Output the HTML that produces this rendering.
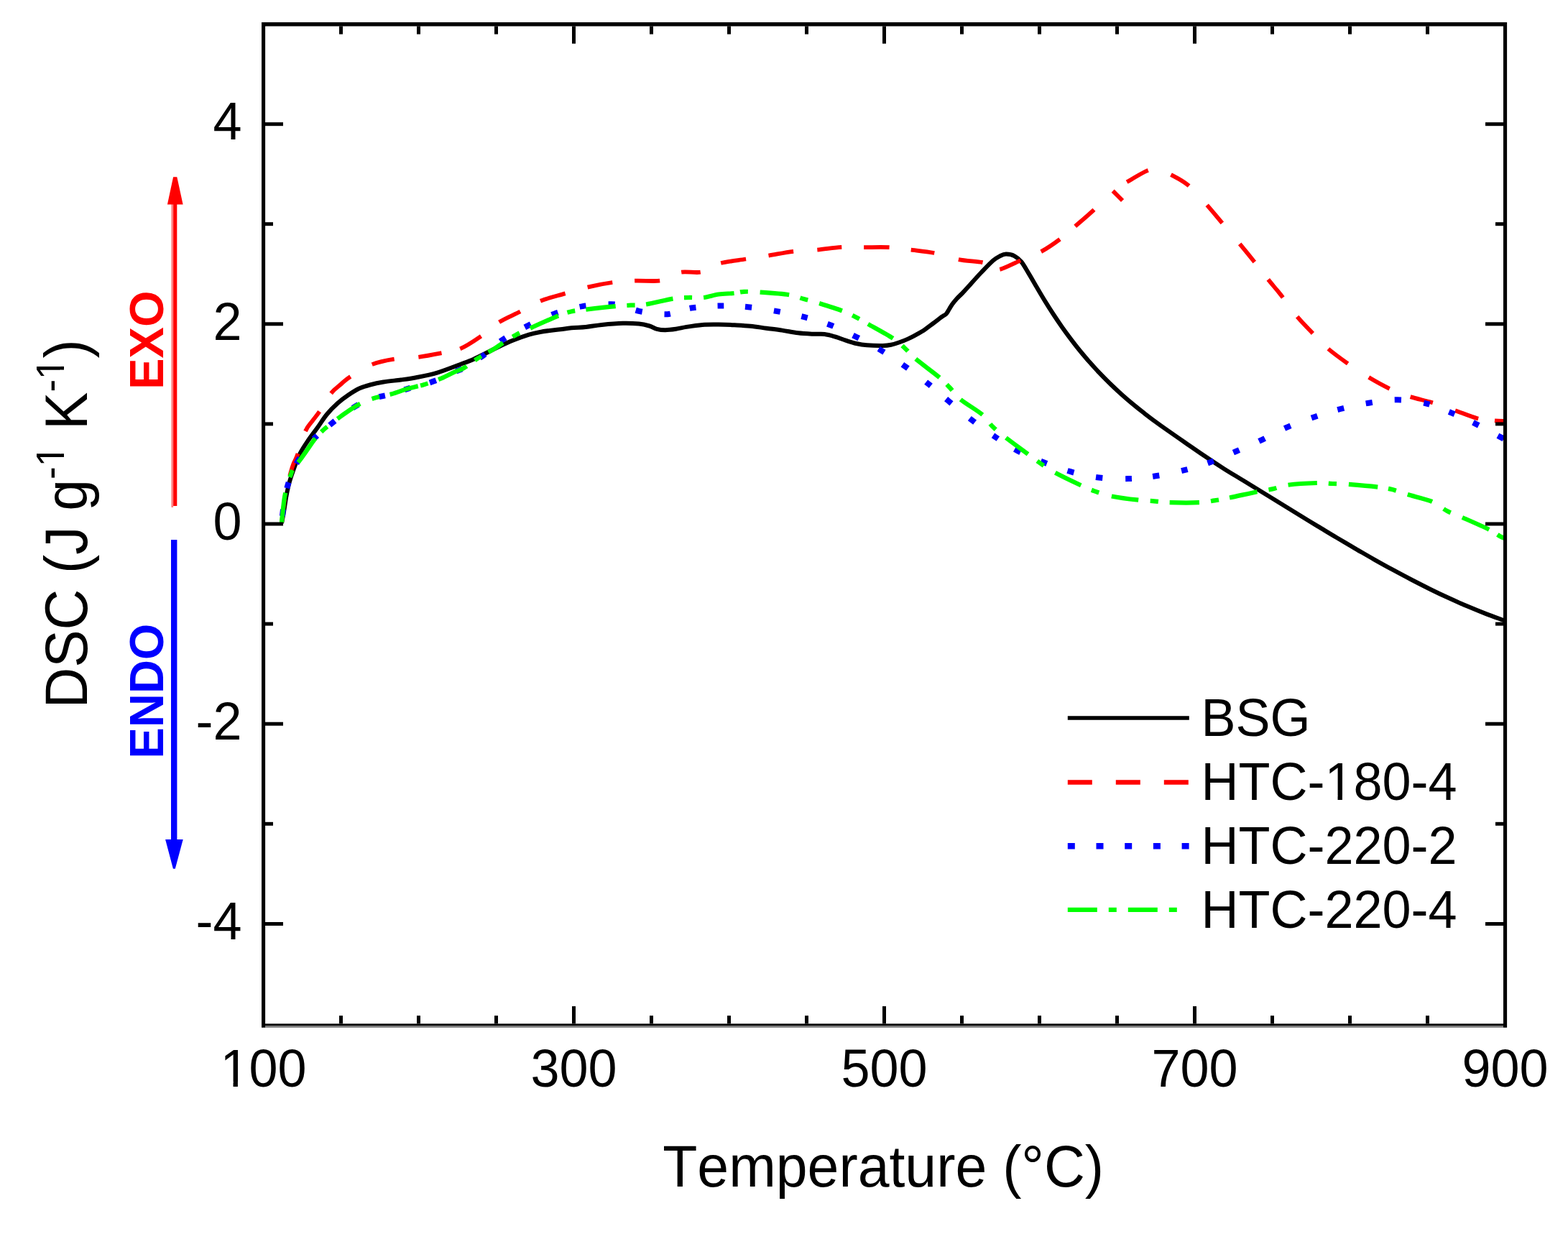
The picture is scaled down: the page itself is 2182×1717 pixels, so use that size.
<!DOCTYPE html>
<html><head><meta charset="utf-8"><title>DSC</title>
<style>html,body{margin:0;padding:0;background:#fff;overflow:hidden;}svg{display:block;}
text{font-family:"Liberation Sans",Arial,sans-serif;font-kerning:none;}</style></head>
<body>
<svg width="2182" height="1717" viewBox="0 0 2182 1717"><rect x="0" y="0" width="2182" height="1717" fill="#fff"/>
<path d="M392.0,728.0 C392.5,725.3 393.9,718.3 395.0,712.0 C396.1,705.7 397.2,697.0 398.5,690.0 C399.8,683.0 401.2,676.3 403.0,670.0 C404.8,663.7 406.6,658.5 409.0,652.0 C411.4,645.5 414.2,637.5 417.5,631.0 C420.8,624.5 424.6,619.0 428.7,613.0 C432.8,607.0 437.4,601.1 441.8,595.0 C446.2,588.9 450.2,582.2 454.9,576.5 C459.6,570.8 464.9,565.5 469.9,561.0 C474.9,556.5 479.9,552.9 484.9,549.5 C489.9,546.1 494.9,542.8 499.9,540.5 C504.9,538.2 509.3,537.0 514.9,535.5 C520.5,534.0 526.4,532.7 533.6,531.5 C540.8,530.3 550.4,529.5 558.0,528.5 C565.6,527.5 570.9,526.9 579.3,525.2 C587.7,523.6 597.9,521.8 608.5,518.6 C619.1,515.4 634.9,509.0 643.0,506.0 C651.1,503.0 651.5,503.2 657.0,500.8 C662.5,498.4 669.7,494.6 676.0,491.5 C682.3,488.4 688.7,485.0 695.0,482.0 C701.3,479.0 707.2,476.2 714.0,473.5 C720.8,470.8 729.9,467.6 736.0,465.7 C742.1,463.8 745.7,463.1 750.5,462.2 C755.3,461.2 760.1,460.6 765.0,460.0 C769.9,459.4 775.0,458.9 780.0,458.3 C785.0,457.7 789.1,456.9 795.0,456.3 C800.9,455.7 808.2,455.6 815.3,454.9 C822.4,454.2 828.8,452.8 837.4,451.9 C846.0,451.0 858.3,449.9 866.9,449.7 C875.5,449.5 882.9,449.9 889.0,450.5 C895.1,451.1 899.5,452.3 903.7,453.5 C907.9,454.7 910.4,456.9 914.1,457.8 C917.8,458.8 921.4,459.2 925.8,459.2 C930.2,459.2 935.7,458.5 940.6,457.8 C945.5,457.1 949.2,455.9 955.3,454.9 C961.4,453.9 969.9,452.5 977.4,451.9 C984.9,451.3 992.5,451.4 1000.0,451.5 C1007.5,451.6 1014.7,451.8 1022.1,452.2 C1029.5,452.6 1036.8,452.9 1044.2,453.7 C1051.6,454.4 1058.9,455.7 1066.3,456.7 C1073.7,457.7 1081.0,458.5 1088.4,459.6 C1095.8,460.7 1103.2,462.4 1110.6,463.3 C1118.0,464.2 1126.6,464.5 1132.7,464.8 C1138.8,465.1 1142.5,464.4 1147.4,465.0 C1152.3,465.6 1157.2,467.1 1162.1,468.5 C1167.0,469.9 1172.0,472.0 1176.9,473.6 C1181.8,475.2 1186.7,476.9 1191.6,478.0 C1196.5,479.1 1200.2,479.8 1206.4,480.3 C1212.6,480.8 1222.9,481.1 1228.5,481.0 C1234.1,480.9 1236.1,480.6 1240.0,479.8 C1243.9,479.0 1247.8,477.7 1251.7,476.3 C1255.6,474.9 1259.5,473.4 1263.4,471.6 C1267.3,469.8 1271.2,467.9 1275.1,465.7 C1279.0,463.5 1282.9,461.3 1286.8,458.7 C1290.7,456.1 1294.6,452.9 1298.5,450.0 C1302.4,447.1 1307.3,443.2 1310.3,441.0 C1313.3,438.8 1314.7,438.8 1316.5,437.0 C1318.3,435.2 1319.6,432.2 1321.0,430.0 C1322.4,427.8 1323.2,426.0 1325.0,423.5 C1326.8,421.0 1329.6,417.6 1332.0,415.0 C1334.4,412.4 1336.6,410.6 1339.5,407.6 C1342.4,404.6 1344.9,401.8 1349.2,397.0 C1353.5,392.2 1360.1,384.7 1365.6,379.0 C1371.1,373.3 1377.6,366.4 1382.0,362.6 C1386.4,358.8 1388.8,357.6 1391.8,356.1 C1394.8,354.6 1396.7,353.6 1400.0,353.6 C1403.3,353.6 1408.0,354.3 1411.5,356.1 C1415.0,357.9 1418.0,360.4 1421.3,364.3 C1424.5,368.2 1427.5,373.9 1431.0,379.6 C1434.5,385.3 1438.2,391.9 1442.0,398.4 C1445.8,404.9 1450.0,412.1 1454.0,418.6 C1458.0,425.1 1462.0,431.4 1466.0,437.5 C1470.0,443.6 1474.0,449.5 1478.0,455.2 C1482.0,460.9 1486.0,466.3 1490.0,471.6 C1494.0,476.9 1497.8,481.9 1502.0,487.0 C1506.2,492.1 1510.3,497.1 1515.0,502.4 C1519.7,507.7 1524.8,513.5 1530.0,518.9 C1535.2,524.3 1540.8,530.0 1546.0,535.0 C1551.2,540.0 1556.0,544.5 1561.0,549.0 C1566.0,553.5 1570.8,557.6 1576.0,561.9 C1581.2,566.2 1586.8,570.7 1592.0,574.7 C1597.2,578.7 1602.0,582.4 1607.0,586.1 C1612.0,589.8 1615.2,592.1 1622.0,596.9 C1628.8,601.7 1639.0,608.8 1648.0,615.0 C1657.0,621.2 1666.7,628.0 1676.0,634.3 C1685.3,640.6 1695.0,647.0 1704.0,652.7 C1713.0,658.4 1721.3,663.2 1730.0,668.5 C1738.7,673.8 1747.3,679.2 1756.0,684.5 C1764.7,689.8 1773.3,695.2 1782.0,700.5 C1790.7,705.8 1799.3,711.2 1808.0,716.5 C1816.7,721.8 1825.3,727.1 1834.0,732.4 C1842.7,737.6 1851.3,742.9 1860.0,748.0 C1868.7,753.1 1877.3,758.2 1886.0,763.3 C1894.7,768.3 1903.3,773.4 1912.0,778.3 C1920.7,783.2 1929.3,788.0 1938.0,792.7 C1946.7,797.4 1955.3,802.0 1964.0,806.5 C1972.7,811.0 1981.3,815.4 1990.0,819.7 C1998.7,824.0 2007.3,828.1 2016.0,832.1 C2024.7,836.1 2033.3,839.9 2042.0,843.6 C2050.7,847.3 2059.3,850.8 2068.0,854.1 C2076.7,857.4 2089.7,862.0 2094.0,863.6" fill="none" stroke="#000" stroke-width="6.0" stroke-linejoin="round"/>
<path d="M392.0,727.0 C392.3,724.2 393.2,716.2 394.0,710.0 C394.8,703.8 395.8,696.3 397.0,690.0 C398.2,683.7 399.8,677.3 401.0,672.0 C402.2,666.7 403.1,662.5 404.4,658.0 C405.6,653.5 406.9,649.1 408.5,645.0 C410.1,640.9 410.9,641.1 413.7,633.6 C416.4,626.1 421.5,607.9 425.0,600.0 C428.5,592.1 431.2,590.5 434.5,586.0 C437.8,581.5 440.2,579.1 444.6,572.7 C449.0,566.3 455.7,553.7 460.6,547.4 C465.5,541.1 469.5,538.9 474.0,535.0 C478.5,531.1 480.4,528.6 487.7,524.0 C495.0,519.4 507.6,511.2 517.7,507.1 C527.9,503.0 537.8,501.3 548.6,499.6 C559.4,497.9 571.3,498.2 582.3,496.8 C593.3,495.4 604.8,493.1 614.4,491.2 C624.0,489.3 631.0,489.3 640.2,485.4 C649.4,481.5 660.2,474.1 669.4,467.8 C678.6,461.6 686.1,453.6 695.2,447.9 C704.3,442.2 714.5,438.4 723.9,433.5 C733.3,428.6 741.5,423.0 751.9,418.8 C762.3,414.6 775.6,411.6 786.5,408.4 C797.4,405.2 806.6,402.2 817.5,399.6 C828.4,397.0 841.2,394.5 852.1,393.0 C863.0,391.5 872.0,391.1 883.0,390.7 C894.0,390.3 909.7,391.6 918.0,390.7 C926.3,389.8 928.0,387.0 933.0,385.0 C938.0,383.0 941.0,379.8 948.0,378.7 C955.0,377.6 968.2,379.8 975.0,378.7 C981.8,377.6 984.3,374.1 989.0,372.0 C993.7,369.9 994.9,367.9 1003.0,366.0 C1011.1,364.1 1026.8,362.2 1037.8,360.5 C1048.8,358.8 1058.3,357.5 1069.3,355.7 C1080.3,353.9 1092.6,351.1 1103.9,349.8 C1115.2,348.5 1125.9,348.6 1137.1,347.6 C1148.3,346.6 1160.2,344.5 1171.0,343.9 C1181.8,343.3 1190.9,344.1 1201.9,344.2 C1213.0,344.2 1226.4,343.6 1237.3,344.2 C1248.2,344.8 1257.0,346.3 1267.5,347.6 C1278.0,348.9 1289.0,349.8 1300.0,352.0 C1311.0,354.2 1322.4,358.8 1333.6,361.0 C1344.8,363.2 1359.5,363.4 1367.2,365.1 C1374.9,366.8 1376.0,369.4 1380.0,371.0 C1384.0,372.6 1384.4,376.3 1391.0,374.9 C1397.6,373.5 1410.1,366.7 1419.7,362.6 C1429.3,358.5 1439.2,355.2 1448.4,350.3 C1457.6,345.4 1466.7,339.0 1474.6,333.1 C1482.5,327.2 1488.0,321.9 1495.9,315.1 C1503.8,308.3 1515.6,298.3 1522.1,292.1 C1528.6,285.9 1530.7,282.5 1535.0,278.0 C1539.3,273.5 1545.8,267.2 1548.0,265.0 C1550.2,262.8 1545.7,262.7 1548.0,265.0 C1550.3,267.3 1559.7,276.7 1562.0,279.0 C1564.3,281.3 1561.2,283.2 1562.0,279.0 C1562.8,274.8 1566.2,258.2 1567.0,254.0 C1567.8,249.8 1562.0,256.8 1567.0,254.0 C1572.0,251.2 1589.2,240.4 1596.7,237.4 C1604.2,234.4 1606.7,235.1 1612.0,236.0 C1617.3,236.9 1621.6,239.0 1628.6,242.7 C1635.6,246.4 1645.4,251.0 1653.8,258.0 C1662.2,265.0 1671.2,276.0 1678.9,284.6 C1686.6,293.2 1692.6,300.7 1700.2,309.7 C1707.8,318.7 1717.0,329.6 1724.5,338.6 C1732.0,347.6 1738.5,355.6 1745.1,363.8 C1751.7,372.1 1757.5,379.9 1764.1,388.1 C1770.7,396.3 1778.0,404.6 1784.7,413.2 C1791.4,421.8 1797.6,431.6 1804.5,439.9 C1811.4,448.2 1818.9,455.6 1826.1,463.1 C1833.3,470.6 1839.5,477.7 1847.6,484.7 C1855.7,491.7 1865.4,498.7 1874.8,505.3 C1884.2,511.9 1894.1,518.7 1903.8,524.5 C1913.5,530.3 1923.1,535.8 1932.7,540.3 C1942.3,544.8 1951.6,548.5 1961.6,551.8 C1971.6,555.1 1982.4,556.9 1992.8,560.1 C2003.2,563.3 2013.5,567.1 2024.0,570.8 C2034.5,574.5 2046.9,579.8 2056.0,582.2 C2065.1,584.6 2072.5,584.6 2078.8,585.2 C2085.1,585.8 2091.5,585.9 2094.0,586.0" fill="none" stroke="#ff0000" stroke-width="5.8" stroke-linejoin="round" stroke-dasharray="0.00 0.00 32.34 33.71 33.02 32.76 33.71 29.95 35.91 34.48 31.87 33.83 32.59 26.52 34.14 31.80 32.93 31.65 36.15 32.23 35.24 31.00 35.02 32.56 26.51 31.48 35.24 31.86 35.10 33.28 34.11 30.91 35.41 30.40 32.81 34.80 33.87 26.42 31.27 31.24 31.37 27.90 34.87 42.65 18.67 38.70 33.59 33.65 29.55 36.61 32.92 37.76 32.55 30.85 32.47 33.25 31.71 30.49 34.13 34.79 32.95 31.12 32.29 32.99 33.98 23.03 15.22 3098.16"/>
<path d="M392.0,727.0 C392.4,723.3 393.6,711.5 394.5,705.0 C395.4,698.5 396.5,693.0 397.5,688.0 C398.5,683.0 399.0,680.0 400.6,674.8 C402.2,669.6 404.6,662.6 407.0,657.0 C409.4,651.4 411.4,646.8 414.7,641.1 C418.0,635.4 422.8,628.6 427.0,623.0 C431.2,617.4 432.5,614.4 440.0,607.4 C447.5,600.4 464.3,587.0 471.8,581.1 C479.3,575.2 480.2,574.9 484.9,571.8 C489.6,568.7 494.0,565.4 499.9,562.4 C505.8,559.4 513.0,556.4 520.5,554.0 C528.0,551.6 537.1,550.5 544.9,548.3 C552.7,546.1 559.9,543.0 567.4,540.8 C574.9,538.6 582.0,537.6 589.8,535.2 C597.6,532.8 607.2,529.4 614.4,526.4 C621.6,523.4 627.6,519.8 632.9,517.4 C638.2,515.0 640.7,514.9 646.0,511.8 C651.3,508.7 660.4,501.5 664.8,498.7 C669.2,495.9 666.6,499.2 672.3,494.9 C678.0,490.6 688.7,479.9 699.0,473.0 C709.3,466.1 722.1,459.5 734.2,453.4 C746.3,447.3 759.0,441.1 771.8,436.5 C784.6,431.9 797.8,428.3 810.9,426.1 C824.0,423.9 840.9,423.1 850.7,423.2 C860.6,423.3 863.6,425.4 870.0,427.0 C876.4,428.6 882.3,431.3 889.0,432.8 C895.7,434.3 903.4,435.3 910.0,436.0 C916.6,436.7 922.8,437.7 928.8,437.2 C934.8,436.7 940.1,434.5 946.0,433.0 C951.9,431.5 954.8,429.6 964.2,428.3 C973.7,427.1 989.9,425.7 1002.7,425.5 C1015.6,425.3 1028.2,425.9 1041.3,427.2 C1054.4,428.5 1068.1,430.8 1081.1,433.1 C1094.1,435.4 1107.0,438.0 1119.4,441.2 C1131.8,444.4 1143.6,447.6 1155.5,452.2 C1167.4,456.8 1179.1,462.6 1190.9,468.5 C1202.7,474.4 1214.9,480.7 1226.3,487.6 C1237.7,494.5 1248.5,501.9 1259.4,509.7 C1270.3,517.5 1281.8,526.1 1291.9,534.1 C1302.0,542.1 1309.9,549.6 1320.0,558.0 C1330.1,566.4 1341.7,576.2 1352.6,584.6 C1363.5,593.0 1374.9,601.1 1385.4,608.2 C1395.9,615.3 1404.7,621.4 1415.8,627.2 C1426.9,633.0 1440.0,638.4 1452.3,643.2 C1464.6,648.0 1476.8,652.7 1489.6,656.2 C1502.4,659.8 1515.8,662.9 1529.2,664.5 C1542.7,666.1 1557.1,666.5 1570.3,666.1 C1583.5,665.7 1595.4,664.3 1608.4,662.3 C1621.4,660.3 1635.4,657.4 1648.1,654.2 C1660.8,651.0 1672.6,647.4 1684.6,643.0 C1696.6,638.6 1708.3,633.1 1720.2,628.0 C1732.1,622.9 1743.9,617.7 1755.8,612.1 C1767.7,606.5 1779.2,599.6 1791.4,594.3 C1803.6,589.0 1816.6,584.4 1828.9,580.2 C1841.2,576.0 1852.8,572.2 1865.4,569.0 C1878.1,565.8 1891.5,562.8 1904.8,560.7 C1918.0,558.6 1931.5,556.1 1944.9,556.3 C1958.3,556.4 1972.7,558.5 1985.2,561.6 C1997.8,564.7 2008.8,569.9 2020.2,574.6 C2031.6,579.3 2042.4,584.2 2053.7,589.8 C2065.0,595.4 2081.3,604.6 2088.0,608.1 C2094.7,611.6 2093.0,610.5 2094.0,611.0" fill="none" stroke="#0000ff" stroke-width="8" stroke-linejoin="round" stroke-dasharray="0.00 9.17 9.00 30.30 8.38 28.22 9.68 32.58 6.63 22.34 9.18 30.90 9.18 30.90 8.40 28.26 8.40 28.26 9.07 30.53 9.07 30.53 8.13 27.36 9.02 30.36 9.45 31.80 9.28 31.23 9.15 30.80 9.08 30.56 9.19 30.94 8.37 28.19 8.84 29.78 8.85 29.80 9.22 31.03 8.97 30.19 8.65 29.11 8.93 30.06 9.21 31.02 9.12 30.69 9.31 31.34 8.45 28.44 9.64 32.44 9.26 31.16 8.21 27.66 9.13 30.74 9.05 30.47 9.27 31.22 9.43 31.74 8.77 29.54 9.28 31.25 8.75 29.45 8.85 29.79 8.93 30.06 9.12 30.69 9.18 30.90 8.75 29.44 9.22 31.05 9.25 31.14 9.33 31.40 8.56 28.82 8.43 28.37 8.90 29.98 9.00 2930.69"/>
<path d="M392.0,727.0 C392.2,724.5 392.9,717.3 393.5,712.0 C394.1,706.7 394.8,700.0 395.5,695.0 C396.2,690.0 397.1,686.2 398.0,682.0 C398.9,677.8 399.9,673.5 401.0,670.0 C402.1,666.5 403.3,664.0 404.5,661.0 C405.7,658.0 405.9,655.5 408.1,652.0 C410.3,648.5 414.1,644.6 417.5,640.0 C420.9,635.4 425.3,629.0 428.7,624.2 C432.1,619.4 434.5,615.5 438.1,611.1 C441.7,606.7 444.7,603.0 450.3,598.0 C455.9,593.0 466.0,585.5 471.8,581.1 C477.6,576.7 480.2,574.9 484.9,571.8 C489.6,568.7 494.0,565.4 499.9,562.4 C505.8,559.4 513.0,556.4 520.5,554.0 C528.0,551.6 537.1,550.5 544.9,548.3 C552.7,546.1 559.9,543.0 567.4,540.8 C574.9,538.6 582.0,537.6 589.8,535.2 C597.6,532.8 607.2,529.4 614.4,526.4 C621.6,523.4 627.6,519.8 632.9,517.4 C638.2,515.0 640.7,514.9 646.0,511.8 C651.3,508.7 657.9,503.1 664.8,498.7 C671.7,494.3 681.7,489.0 687.3,485.6 C692.9,482.2 693.4,481.4 698.5,478.1 C703.6,474.8 711.1,469.6 718.0,465.9 C724.9,462.1 730.3,460.0 740.1,455.6 C749.9,451.2 767.9,443.1 777.0,439.4 C786.1,435.7 788.3,435.0 794.7,433.5 C801.1,432.0 805.0,431.8 815.3,430.6 C825.6,429.4 846.2,427.1 856.6,426.1 C867.0,425.1 870.8,425.1 877.9,424.7 C885.0,424.3 889.1,425.0 899.0,423.5 C908.9,422.0 927.2,417.1 937.0,415.5 C946.8,413.9 951.0,414.2 958.0,414.0 C965.0,413.8 972.0,414.8 979.0,414.0 C986.0,413.2 992.9,410.5 1000.0,409.5 C1007.1,408.5 1015.5,408.6 1021.4,408.0 C1027.3,407.4 1029.4,406.0 1035.4,405.8 C1041.4,405.6 1047.1,405.9 1057.5,406.6 C1067.9,407.3 1087.8,408.6 1098.0,410.2 C1108.2,411.8 1111.7,414.1 1118.7,416.1 C1125.7,418.1 1131.2,419.3 1140.0,422.0 C1148.8,424.7 1163.2,429.1 1171.7,432.3 C1180.2,435.5 1184.9,438.1 1190.9,441.2 C1196.9,444.3 1199.2,445.9 1207.8,450.8 C1216.4,455.7 1233.9,465.1 1242.5,470.7 C1251.1,476.3 1254.1,479.9 1259.4,484.7 C1264.7,489.5 1266.2,492.6 1274.2,499.4 C1282.2,506.1 1299.4,518.6 1307.3,525.2 C1315.2,531.8 1316.5,533.9 1321.4,539.0 C1326.3,544.1 1329.0,549.4 1336.6,555.7 C1344.2,562.0 1359.6,570.6 1367.1,577.0 C1374.6,583.4 1376.0,588.5 1381.5,593.8 C1387.0,599.1 1391.7,602.7 1399.8,609.0 C1407.9,615.3 1422.3,625.8 1430.3,631.8 C1438.3,637.8 1441.5,640.4 1447.8,644.7 C1454.1,649.0 1458.9,652.6 1468.3,657.7 C1477.7,662.8 1494.8,670.9 1504.1,675.2 C1513.4,679.5 1516.8,681.1 1523.9,683.6 C1531.0,686.1 1536.7,688.4 1546.7,690.4 C1556.7,692.4 1574.1,694.6 1584.0,695.7 C1593.9,696.9 1598.8,696.7 1606.1,697.3 C1613.3,697.9 1617.1,698.9 1627.5,699.2 C1637.9,699.5 1658.2,699.7 1668.7,699.2 C1679.2,698.7 1683.3,697.5 1690.3,696.4 C1697.3,695.3 1701.1,694.6 1710.9,692.6 C1720.7,690.6 1739.3,686.2 1749.3,684.2 C1759.3,682.2 1763.6,682.0 1770.8,680.4 C1778.0,678.8 1782.1,676.2 1792.4,674.8 C1802.7,673.4 1822.3,672.3 1832.6,672.0 C1842.9,671.7 1846.8,672.7 1854.2,673.0 C1861.6,673.3 1866.2,673.1 1876.7,673.9 C1887.2,674.7 1906.9,676.4 1917.0,677.6 C1927.1,678.8 1930.4,679.4 1937.3,681.1 C1944.2,682.8 1949.3,685.2 1958.6,688.0 C1967.8,690.8 1983.7,694.1 1992.8,697.9 C2001.9,701.7 2006.4,707.1 2013.4,710.8 C2020.4,714.5 2024.9,715.6 2034.7,719.9 C2044.5,724.2 2063.1,732.2 2072.0,736.7 C2080.9,741.2 2084.3,744.6 2088.0,746.6 C2091.7,748.6 2093.0,748.6 2094.0,749.0" fill="none" stroke="#00ff00" stroke-width="6.2" stroke-linejoin="round" stroke-dasharray="0.00 0.00 41.65 22.40 11.00 13.15 41.00 12.33 11.00 17.74 38.24 17.65 11.00 14.71 41.00 3.39 11.00 15.10 44.26 13.54 11.00 10.94 24.37 15.60 11.00 16.55 42.64 13.19 11.00 15.32 41.55 15.85 11.00 15.66 38.08 15.82 11.00 16.04 42.95 8.69 11.00 16.63 40.67 16.06 11.00 16.60 33.34 15.68 11.00 13.94 40.01 16.48 11.00 15.38 41.97 14.25 11.00 17.12 37.22 16.68 11.00 18.30 38.08 16.24 11.00 18.79 39.85 16.02 11.00 18.32 37.68 16.66 11.00 15.99 41.21 16.30 11.00 15.45 39.31 16.34 11.00 16.85 40.31 16.14 11.00 17.02 40.47 15.12 11.00 16.90 35.63 18.86 11.00 17.67 40.91 13.34 11.00 2940.19"/>
<rect x="364.0" y="31.0" width="1733.0" height="5.5" fill="#000"/>
<rect x="364.0" y="31.0" width="5.1" height="1398.8" fill="#000"/>
<rect x="2092.0" y="31.0" width="5.1" height="1398.8" fill="#000"/>
<rect x="364.0" y="1424.4" width="1733.0" height="2.7" fill="#000"/>
<rect x="369.0" y="1427.1" width="1723.0" height="2.7" fill="#777"/>
<rect x="472.0" y="1413.2" width="5" height="11.2" fill="#000"/>
<rect x="472.0" y="36.4" width="5" height="11.2" fill="#000"/>
<rect x="580.0" y="1413.2" width="5" height="11.2" fill="#000"/>
<rect x="580.0" y="36.4" width="5" height="11.2" fill="#000"/>
<rect x="688.0" y="1413.2" width="5" height="11.2" fill="#000"/>
<rect x="688.0" y="36.4" width="5" height="11.2" fill="#000"/>
<rect x="796.0" y="1400.1" width="5" height="24.3" fill="#000"/>
<rect x="796.0" y="36.4" width="5" height="24.3" fill="#000"/>
<rect x="904.0" y="1413.2" width="5" height="11.2" fill="#000"/>
<rect x="904.0" y="36.4" width="5" height="11.2" fill="#000"/>
<rect x="1012.0" y="1413.2" width="5" height="11.2" fill="#000"/>
<rect x="1012.0" y="36.4" width="5" height="11.2" fill="#000"/>
<rect x="1120.0" y="1413.2" width="5" height="11.2" fill="#000"/>
<rect x="1120.0" y="36.4" width="5" height="11.2" fill="#000"/>
<rect x="1228.0" y="1400.1" width="5" height="24.3" fill="#000"/>
<rect x="1228.0" y="36.4" width="5" height="24.3" fill="#000"/>
<rect x="1336.0" y="1413.2" width="5" height="11.2" fill="#000"/>
<rect x="1336.0" y="36.4" width="5" height="11.2" fill="#000"/>
<rect x="1444.0" y="1413.2" width="5" height="11.2" fill="#000"/>
<rect x="1444.0" y="36.4" width="5" height="11.2" fill="#000"/>
<rect x="1552.0" y="1413.2" width="5" height="11.2" fill="#000"/>
<rect x="1552.0" y="36.4" width="5" height="11.2" fill="#000"/>
<rect x="1660.0" y="1400.1" width="5" height="24.3" fill="#000"/>
<rect x="1660.0" y="36.4" width="5" height="24.3" fill="#000"/>
<rect x="1768.0" y="1413.2" width="5" height="11.2" fill="#000"/>
<rect x="1768.0" y="36.4" width="5" height="11.2" fill="#000"/>
<rect x="1876.0" y="1413.2" width="5" height="11.2" fill="#000"/>
<rect x="1876.0" y="36.4" width="5" height="11.2" fill="#000"/>
<rect x="1984.0" y="1413.2" width="5" height="11.2" fill="#000"/>
<rect x="1984.0" y="36.4" width="5" height="11.2" fill="#000"/>
<rect x="369" y="1283.0" width="25.0" height="5" fill="#000"/>
<rect x="2067.0" y="1283.0" width="25.0" height="5" fill="#000"/>
<rect x="369" y="1143.8" width="11.0" height="5" fill="#000"/>
<rect x="2081.0" y="1143.8" width="11.0" height="5" fill="#000"/>
<rect x="369" y="1004.7" width="25.0" height="5" fill="#000"/>
<rect x="2067.0" y="1004.7" width="25.0" height="5" fill="#000"/>
<rect x="369" y="865.6" width="11.0" height="5" fill="#000"/>
<rect x="2081.0" y="865.6" width="11.0" height="5" fill="#000"/>
<rect x="369" y="726.5" width="25.0" height="5" fill="#000"/>
<rect x="2067.0" y="726.5" width="25.0" height="5" fill="#000"/>
<rect x="369" y="587.4" width="11.0" height="5" fill="#000"/>
<rect x="2081.0" y="587.4" width="11.0" height="5" fill="#000"/>
<rect x="369" y="448.3" width="25.0" height="5" fill="#000"/>
<rect x="2067.0" y="448.3" width="25.0" height="5" fill="#000"/>
<rect x="369" y="309.2" width="11.0" height="5" fill="#000"/>
<rect x="2081.0" y="309.2" width="11.0" height="5" fill="#000"/>
<rect x="369" y="170.2" width="25.0" height="5" fill="#000"/>
<rect x="2067.0" y="170.2" width="25.0" height="5" fill="#000"/>
<text transform="translate(336.50,194.35) scale(1.0000,1.0400)" font-size="72" text-anchor="end" font-family="Liberation Sans, Arial, sans-serif" >4</text>
<text transform="translate(336.50,472.55) scale(1.0000,1.0400)" font-size="72" text-anchor="end" font-family="Liberation Sans, Arial, sans-serif" >2</text>
<text transform="translate(336.50,750.75) scale(1.0000,1.0400)" font-size="72" text-anchor="end" font-family="Liberation Sans, Arial, sans-serif" >0</text>
<text transform="translate(336.50,1028.95) scale(1.0000,1.0400)" font-size="72" text-anchor="end" font-family="Liberation Sans, Arial, sans-serif" >-2</text>
<text transform="translate(336.50,1307.15) scale(1.0000,1.0400)" font-size="72" text-anchor="end" font-family="Liberation Sans, Arial, sans-serif" >-4</text>
<g transform="translate(366.50,1511.60) scale(1.0000,1.0400)"><text x="0" y="0" font-size="72" text-anchor="middle" font-family="Liberation Sans, Arial, sans-serif" >100</text><rect x="-55.69" y="-6.18" width="13.73" height="7.38" fill="#fff"/><rect x="-35.60" y="-6.18" width="13.17" height="7.38" fill="#fff"/></g>
<text transform="translate(798.50,1511.60) scale(1.0000,1.0400)" font-size="72" text-anchor="middle" font-family="Liberation Sans, Arial, sans-serif" >300</text>
<text transform="translate(1230.50,1511.60) scale(1.0000,1.0400)" font-size="72" text-anchor="middle" font-family="Liberation Sans, Arial, sans-serif" >500</text>
<text transform="translate(1662.50,1511.60) scale(1.0000,1.0400)" font-size="72" text-anchor="middle" font-family="Liberation Sans, Arial, sans-serif" >700</text>
<text transform="translate(2094.50,1511.60) scale(1.0000,1.0400)" font-size="72" text-anchor="middle" font-family="Liberation Sans, Arial, sans-serif" >900</text>
<text transform="translate(1229.10,1650.60) scale(0.9850,1.0200)" font-size="80" text-anchor="middle" font-family="Liberation Sans, Arial, sans-serif" >Temperature (°C)</text>
<g transform="translate(121.20,985.60) rotate(-90) scale(0.9820,1.0450)"><text x="0" y="0" font-size="80" font-family="Liberation Sans, Arial, sans-serif" >DSC (J g<tspan font-size="54" dy="-31">-1</tspan><tspan dy="31"> K</tspan><tspan font-size="54" dy="-31">-1</tspan><tspan dy="31">)</tspan></text><rect x="345.53" y="-35.83" width="10.52" height="6.03" fill="#fff"/><rect x="360.83" y="-35.83" width="10.10" height="6.03" fill="#fff"/><rect x="469.13" y="-35.83" width="10.52" height="6.03" fill="#fff"/><rect x="484.43" y="-35.83" width="10.10" height="6.03" fill="#fff"/></g>
<text transform="translate(227.30,541.80) rotate(-90) scale(1.0000,1.0300)" font-size="65" font-family="Liberation Sans, Arial, sans-serif" font-weight="bold" fill="#ff0000">EXO</text>
<text transform="translate(227.30,1055.40) rotate(-90) scale(1.0000,1.0300)" font-size="65" font-family="Liberation Sans, Arial, sans-serif" font-weight="bold" fill="#0000ff">ENDO</text>
<rect x="241.1" y="280" width="5.2" height="424" fill="#ff0000"/>
<rect x="238.4" y="284" width="2.7" height="422" fill="#ff8080"/>
<polygon points="241.1,246.2 246.3,246.2 254.6,284.5 232.9,284.5" fill="#ff0000"/>
<rect x="238.0" y="751.1" width="8.4" height="420" fill="#0000ff"/>
<polygon points="230.1,1168.1 254.7,1168.1 243.8,1208.7 240.9,1208.7" fill="#0000ff"/>
<line x1="1485.8" y1="999" x2="1654.8" y2="999" stroke="#000" stroke-width="5.6"/>
<line x1="1485.8" y1="1088.5" x2="1654.8" y2="1088.5" stroke="#ff0000" stroke-width="6.5" stroke-dasharray="34 33"/>
<line x1="1485.8" y1="1177.3" x2="1654.8" y2="1177.3" stroke="#0000ff" stroke-width="8.4" stroke-dasharray="10 29.7"/>
<line x1="1485.8" y1="1265.9" x2="1640.0" y2="1265.9" stroke="#00ff00" stroke-width="6.2" stroke-dasharray="41 16 11 16"/>
<text transform="translate(1671.50,1023.60) scale(1.0000,1.0400)" font-size="72" font-family="Liberation Sans, Arial, sans-serif" >BSG</text>
<g transform="translate(1671.50,1113.40) scale(1.0000,1.0400)"><text x="0" y="0" font-size="72" font-family="Liberation Sans, Arial, sans-serif" >HTC-180-4</text><rect x="176.32" y="-6.18" width="13.73" height="7.38" fill="#fff"/><rect x="196.42" y="-6.18" width="13.17" height="7.38" fill="#fff"/></g>
<text transform="translate(1671.50,1201.80) scale(1.0000,1.0400)" font-size="72" font-family="Liberation Sans, Arial, sans-serif" >HTC-220-2</text>
<text transform="translate(1671.50,1290.60) scale(1.0000,1.0400)" font-size="72" font-family="Liberation Sans, Arial, sans-serif" >HTC-220-4</text></svg>
</body></html>
